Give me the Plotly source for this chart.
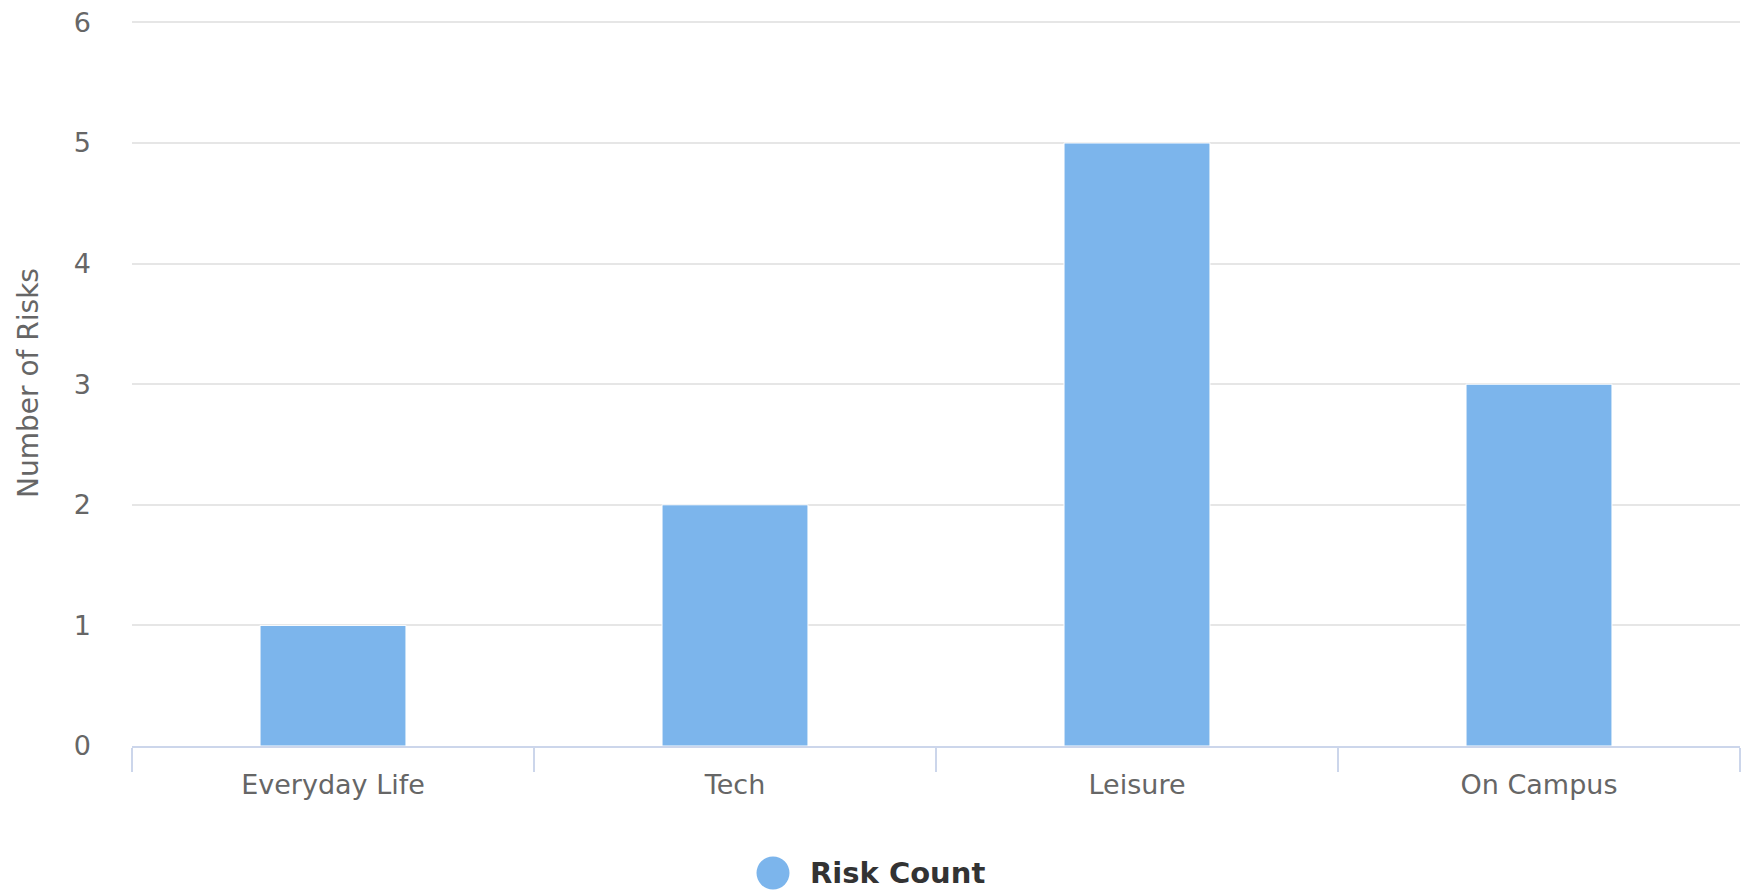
import plotly.graph_objects as go

categories = ["Everyday Life", "Tech", "Leisure", "On Campus"]
risk_counts = [1, 2, 5, 3]
y_ticks = [0, 1, 2, 3, 4, 5, 6]
series_name = "Risk Count"

W, H = 1750, 893
ML, MR, MT, MB = 132, 10, 20, 147
BAR_COLOR = "#7cb5ec"
FONT = "DejaVu Sans"

fig = go.Figure()
fig.add_trace(go.Bar(
    x=categories,
    y=risk_counts,
    name=series_name,
    marker=dict(color=BAR_COLOR, line=dict(color="#ffffff", width=1)),
    showlegend=False,
    hoverinfo="x+y",
))

plot_w = W - ML - MR
plot_h = H - MT - MB

# legend: round swatch + bold label centred under the plot
legend_cx_px = 773
legend_cy_px = 873
lx = (legend_cx_px - ML) / plot_w
ly = (H - MB - legend_cy_px) / plot_h

fig.add_shape(
    type="circle", xref="paper", yref="paper",
    xsizemode="pixel", ysizemode="pixel",
    xanchor=lx, yanchor=ly,
    x0=-16.5, x1=16.5, y0=-16.5, y1=16.5,
    fillcolor=BAR_COLOR, line=dict(width=0),
)
fig.add_annotation(
    text=f"<b>{series_name}</b>", xref="paper", yref="paper",
    x=(808 - ML) / plot_w, y=ly, xanchor="left", yanchor="middle",
    showarrow=False, font=dict(family=FONT, size=29, color="#333333"),
)

fig.update_layout(
    width=W, height=H,
    margin=dict(l=ML, r=MR, t=MT, b=MB, autoexpand=False),
    paper_bgcolor="#ffffff", plot_bgcolor="#ffffff",
    bargap=0.637,
    font=dict(family=FONT, color="#666666"),
    showlegend=False,
)
fig.update_xaxes(
    type="category",
    showgrid=False,
    showline=True, linecolor="#ccd6eb", linewidth=2,
    ticks="outside", tickson="boundaries", ticklen=24, tickwidth=2, tickcolor="#ccd6eb",
    ticklabelstandoff=14,
    tickfont=dict(family=FONT, size=27, color="#666666"),
    fixedrange=True,
)
fig.update_yaxes(
    range=[0, 6.02],
    tickvals=y_ticks,
    showgrid=True, gridcolor="#e6e6e6", gridwidth=2,
    zeroline=False, showline=False, ticks="",
    ticklabelstandoff=40,
    tickfont=dict(family=FONT, size=27, color="#666666"),
    title=dict(text="Number of Risks", font=dict(family=FONT, size=28, color="#666666"), standoff=27),
    fixedrange=True,
)

fig.write_html("out.html")
